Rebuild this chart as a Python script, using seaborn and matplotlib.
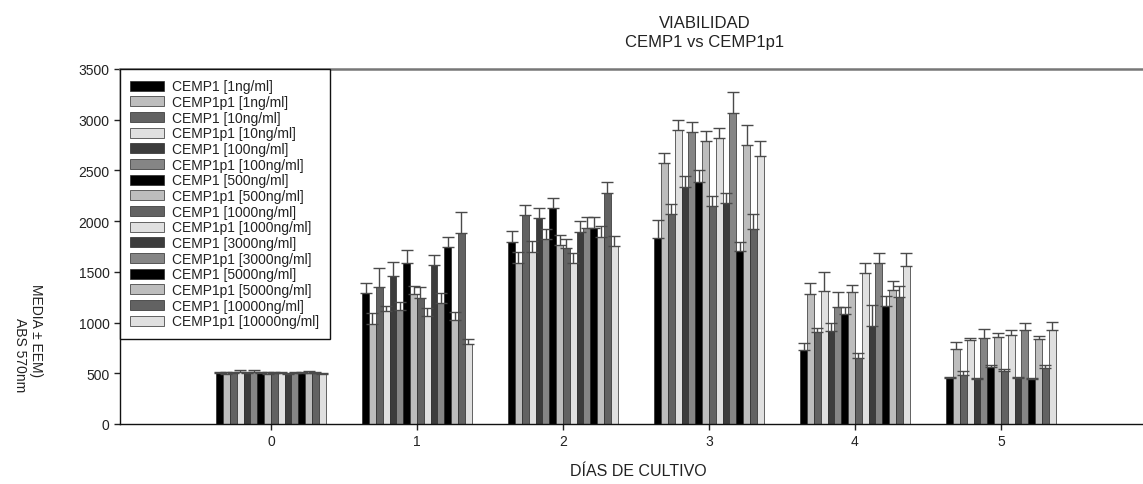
import matplotlib
matplotlib.use("Agg")
import matplotlib.pyplot as plt
import numpy as np
import pandas as pd
import seaborn as sns

# Culture days and treatment series
dias = [0, 1, 2, 3, 4, 5]
concentraciones = ["1ng/ml", "10ng/ml", "100ng/ml", "500ng/ml", "1000ng/ml",
                   "3000ng/ml", "5000ng/ml", "10000ng/ml"]
series = [f"{p} [{c}]" for c in concentraciones for p in ("CEMP1", "CEMP1p1")]

# Mean absorbance (570 nm) per day, one value per series in legend order
media_d0 = [500, 495, 505, 510, 500, 508, 500, 497, 502, 500, 495, 500, 498, 505, 500, 497]
media_d1 = [1287, 982, 1349, 1113, 1464, 1123, 1585, 1277, 1241, 1064, 1569, 1189, 1745, 1022, 1883, 786]
media_d2 = [1798, 1588, 2056, 1699, 2027, 1824, 2128, 1768, 1732, 1588, 1893, 1929, 1935, 1840, 2282, 1752]
media_d3 = [1834, 2577, 2073, 2898, 2341, 2878, 2390, 2790, 2151, 2816, 2177, 3062, 1709, 2747, 1922, 2639]
media_d4 = [730, 1284, 907, 1316, 917, 1149, 1084, 1300, 655, 1490, 966, 1585, 1162, 1326, 1257, 1562]
media_d5 = [449, 737, 487, 825, 442, 845, 560, 861, 521, 877, 455, 926, 445, 835, 550, 923]

# Standard error of the mean per day
eem_d0 = [12, 15, 12, 18, 15, 20, 10, 12, 12, 10, 12, 12, 10, 15, 12, 10]
eem_d1 = [101, 111, 190, 49, 137, 78, 128, 82, 108, 82, 101, 101, 99, 81, 209, 49]
eem_d2 = [101, 105, 102, 108, 98, 101, 98, 95, 95, 98, 111, 108, 108, 115, 102, 105]
eem_d3 = [180, 98, 98, 98, 108, 98, 115, 98, 92, 98, 99, 212, 82, 200, 151, 151]
eem_d4 = [72, 104, 42, 184, 82, 151, 72, 75, 42, 95, 203, 101, 98, 82, 102, 124]
eem_d5 = [10, 75, 34, 26, 16, 91, 26, 36, 19, 46, 8, 66, 8, 29, 30, 86]

medias = [media_d0, media_d1, media_d2, media_d3, media_d4, media_d5]
eems = [eem_d0, eem_d1, eem_d2, eem_d3, eem_d4, eem_d5]

rows = []
for d, m_day, e_day in zip(dias, medias, eems):
    for s, m, e in zip(series, m_day, e_day):
        rows.append({"dia": d, "serie": s, "media": m, "eem": e})
df = pd.DataFrame(rows)

# Repeating grey fill cycle
ciclo = ["#000000", "#bdbdbd", "#626262", "#e0e0e0", "#3c3c3c", "#858585"]
colores = [ciclo[i % len(ciclo)] for i in range(len(series))]

sns.set_style("ticks")
plt.rcParams["font.family"] = ["Liberation Sans", "DejaVu Sans"]

W, H = 1143, 485
fig = plt.figure(figsize=(W / 100, H / 100), dpi=100)
ax = fig.add_axes([120 / W, 60 / H, 1023 / W, 355 / H])

sns.barplot(data=df, x="dia", y="media", hue="serie", order=dias,
            hue_order=series, palette=colores, saturation=1, width=0.75,
            errorbar=None, edgecolor="#2a2a2a", linewidth=0.5, ax=ax)

# Upper-only error bars on each bar
for cont, s in zip(ax.containers, series):
    errs = df[df["serie"] == s].set_index("dia").loc[dias, "eem"].values
    xs = [b.get_x() + b.get_width() / 2 for b in cont]
    hs = [b.get_height() for b in cont]
    ax.errorbar(xs, hs, yerr=[np.zeros(len(errs)), errs], fmt="none",
                ecolor="#4a4a4a", elinewidth=1, capsize=4, capthick=1, zorder=1)

ax.set_xlim(-1.034, 5.973)
ax.set_ylim(0, 3500)
ax.set_yticks(np.arange(0, 3501, 500))
ax.set_xlabel("")
ax.set_ylabel("")
ax.tick_params(direction="out", length=4, width=1, labelsize=10,
               colors="#222222")

for side in ("left", "bottom"):
    ax.spines[side].set_color("#111111")
    ax.spines[side].set_linewidth(1)
ax.spines["right"].set_visible(False)
ax.spines["top"].set_color("#777777")
ax.spines["top"].set_linewidth(1.8)

leg = ax.legend(loc="upper left", bbox_to_anchor=(0, 1), borderaxespad=0,
                frameon=True, fancybox=False, edgecolor="#111111",
                fontsize=10, handlelength=2.4, handleheight=0.72,
                labelspacing=0.12, borderpad=0.75, handletextpad=0.6)
leg.get_frame().set_linewidth(1)
leg.get_frame().set_alpha(1)
for t in leg.get_texts():
    t.set_color("#222222")

fig.text(705 / W, 1 - 33 / H, "VIABILIDAD\nCEMP1 vs CEMP1p1", ha="center",
         va="center", fontsize=12, linespacing=1.4, color="#222222")
fig.text(638 / W, 1 - 472 / H, "DÍAS DE CULTIVO", ha="center", va="center",
         fontsize=11.5, color="#222222")
fig.text(36 / W, 1 - 331 / H, "MEDIA ± EEM)", rotation=270, ha="center",
         va="center", fontsize=10, color="#222222")
fig.text(20 / W, 1 - 355 / H, "ABS 570nm", rotation=270, ha="center",
         va="center", fontsize=10, color="#222222")

fig.savefig("out.png", dpi=100, facecolor="white")
